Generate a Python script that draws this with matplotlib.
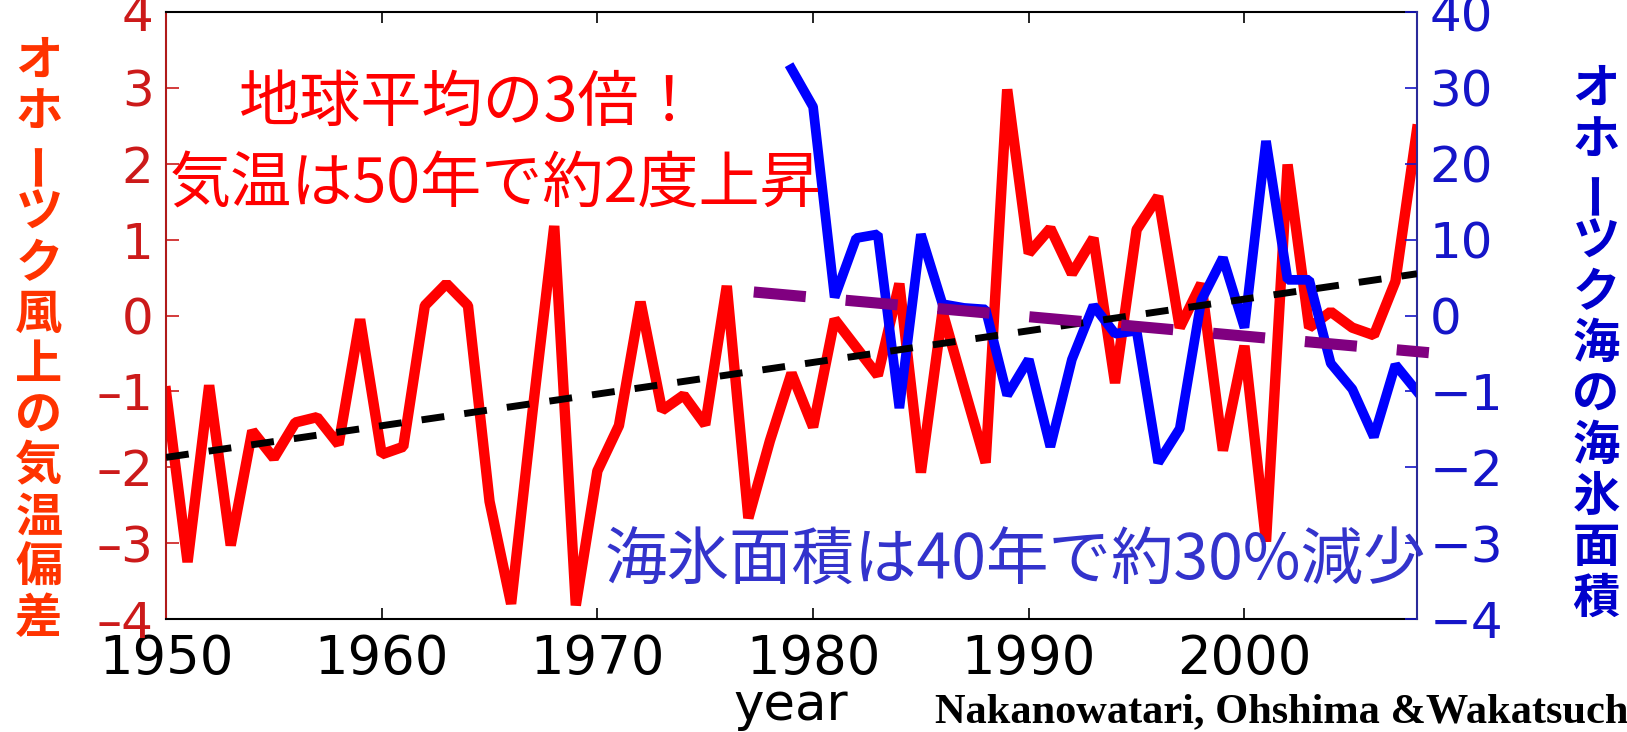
import matplotlib.pyplot as plt
import numpy as np

# Okhotsk upwind air temperature anomaly (left axis, deg C)
years = np.arange(1950, 2009)
air_temp_anom = [
    -1.00, -3.25, -0.92, -3.03, -1.52, -1.88, -1.41, -1.34, -1.70, -0.05,
    -1.83, -1.73, 0.13, 0.42, 0.13, -2.45, -3.80, -1.25, 1.18, -3.82,
    -2.05, -1.45, 0.18, -1.25, -1.05, -1.44, 0.39, -2.67, -1.65, -0.76,
    -1.47, -0.05, -0.42, -0.79, 0.42, -2.07, 0.05, -0.95, -1.94, 2.98,
    0.82, 1.15, 0.55, 1.02, -0.89, 1.13, 1.57, -0.16, 0.42, -1.78,
    -0.40, -2.98, 1.99, -0.16, 0.05, -0.16, -0.26, 0.45, 2.45,
]

# Okhotsk sea ice area anomaly (right axis)
ice_years = np.arange(1979, 2009)
ice_area_anom = [
    32.5, 27.5, 2.4, 10.2, 10.7, -12.2, 10.7, 1.5, 1.0, 0.8,
    -10.5, -5.8, -17.3, -5.8, 1.3, -2.4, -2.0, -19.4, -14.9, 2.0,
    7.6, -1.6, 23.0, 4.7, 4.7, -6.3, -9.7, -16.0, -6.5, -10.0,
]

# linear trends
temp_trend_years = [1950, 2008]
temp_trend_vals = [-1.87, 0.55]
ice_trend_years = [1977.25, 2008.55]
ice_trend_vals = [3.1, -4.9]

year_ticks = [1950, 1960, 1970, 1980, 1990, 2000]
left_ticks = [-4, -3, -2, -1, 0, 1, 2, 3, 4]
left_labels = ['\u20134', '\u20133', '\u20132', '\u20131', '0', '1', '2', '3', '4']
right_ticks = [-40, -30, -20, -10, 0, 10, 20, 30, 40]
right_labels = ['\u22124', '\u22123', '\u22122', '\u22121', '0', '10', '20', '30', '40']

left_title = 'オホ\u30fcツク風上の気温偏差'
right_title = 'オホ\u30fcツク海の海氷面積'
note_temp = ['地球平均の3倍！', '気温は50年で約2度上昇']
note_ice = '海氷面積は40年で約30%減少'
credit = 'Nakanowatari, Ohshima &Wakatsuchi'

CJK = ['Noto Sans CJK JP', 'DejaVu Sans']
W, H = 1627, 732
DASHES = '\u30fc\u2015\u2500\uff0d\u2014-'


def fx(px):
    return px / W


def fy(py):
    return 1 - py / H


def vertical_text(fig, s, x, y0, step, **kw):
    # stack characters top to bottom, long vowel mark turned upright
    for i, ch in enumerate(s):
        rot = 90.0 if ch in DASHES else 0.0
        fig.text(fx(x), fy(y0 + i * step), ch, ha='center', va='center',
                 rotation=rot, rotation_mode='anchor', family=CJK, **kw)


fig = plt.figure(figsize=(16.27, 7.32), dpi=100)
ax = fig.add_axes([fx(166), fy(619), (1417 - 166) / W, (619 - 12) / H])
ax2 = ax.twinx()

ax.plot(years, air_temp_anom, color='#ff0000', lw=7.5, solid_joinstyle='bevel', zorder=2)

ax2.plot(ice_years, ice_area_anom, color='#0000ff', lw=7, solid_joinstyle='bevel', zorder=2)
ax2.plot(temp_trend_years, temp_trend_vals, transform=ax.transData, color='black',
         lw=5, dashes=(3.3, 2.9), zorder=3)
ax2.plot(ice_trend_years, ice_trend_vals, color='#800080', lw=8, dashes=(4.7, 3.6),
         clip_on=False, zorder=4)

ax.set_xlim(1950, 2008)
ax.set_ylim(-4, 4)
ax2.set_ylim(-40, 40)

ax.set_xticks(year_ticks)
ax.tick_params(axis='x', direction='in', length=8, width=1.2, top=True,
               labelsize=38, pad=10, colors='black')
ax.set_yticks(left_ticks, labels=left_labels)
ax.tick_params(axis='y', direction='in', length=9, width=1.2, labelsize=36,
               pad=9, colors='#cc1a1a')
ax2.set_yticks(right_ticks, labels=right_labels)
ax2.tick_params(axis='y', direction='in', length=9, width=1.2, labelsize=36,
                pad=9, colors='#1515c8')

for lab in ax.get_xticklabels() + ax.get_yticklabels() + ax2.get_yticklabels():
    lab.set_family('DejaVu Sans')

ax.spines['left'].set_color('#b01a1a')
ax.spines['right'].set_visible(False)
ax2.spines['left'].set_visible(False)
ax2.spines['top'].set_visible(False)
ax2.spines['bottom'].set_visible(False)
ax2.spines['right'].set_color('#2a2a9a')
for sp in ax.spines.values():
    sp.set_linewidth(1.5)
ax2.spines['right'].set_linewidth(1.5)

# annotations
fig.text(fx(239), fy(104), note_temp[0], ha='left', va='center', color='#ff0000',
         fontsize=44, family=CJK)
fig.text(fx(170), fy(185), note_temp[1], ha='left', va='center', color='#ff0000',
         fontsize=44, family=CJK)
fig.text(fx(605), fy(562), note_ice, ha='left', va='center', color='#3333cc',
         fontsize=45, family=CJK)

vertical_text(fig, left_title, 39, 61, 50.7, fontsize=34, fontweight='bold', color='#ff3300')
vertical_text(fig, right_title, 1596, 89, 51, fontsize=34, fontweight='bold', color='#0000cc')

fig.text(fx(791), fy(720), 'year', ha='center', va='baseline', fontsize=37,
         family='DejaVu Sans', color='black')
fig.text(fx(935), fy(722), credit, ha='left', va='baseline', fontsize=30.5,
         family='Liberation Serif', fontweight='bold', color='black')

fig.savefig('out.png', dpi=100)
